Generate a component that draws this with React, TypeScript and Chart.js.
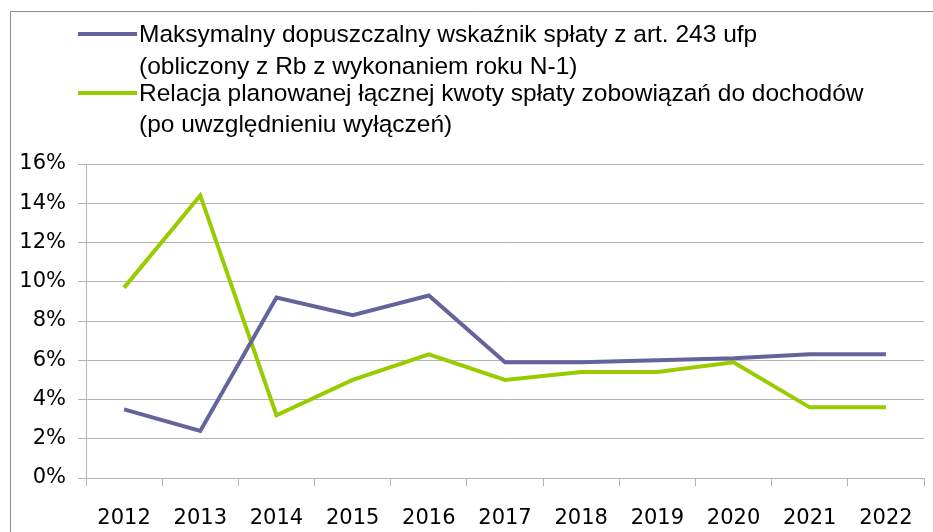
import React, { useEffect, useRef } from "react";
import { Chart, registerables } from "chart.js";

Chart.register(...registerables);

const years = ["2012", "2013", "2014", "2015", "2016", "2017", "2018", "2019", "2020", "2021", "2022"];
const maxIndicator = [3.5, 2.4, 9.2, 8.3, 9.3, 5.9, 5.9, 6.0, 6.1, 6.3, 6.3];
const plannedRatio = [9.7, 14.4, 3.2, 5.0, 6.3, 5.0, 5.4, 5.4, 5.9, 3.6, 3.6];
const legendLines1 = ["Maksymalny dopuszczalny wskaźnik spłaty z art. 243 ufp", "(obliczony z Rb z wykonaniem roku N-1)"];
const legendLines2 = ["Relacja planowanej łącznej kwoty spłaty zobowiązań do dochodów", "(po uwzględnieniu wyłączeń)"];

const BLUE = "#63649c";
const GREEN = "#99cc00";
const GRID = "#b3b3b3";
const LEGEND_FONT = "24.5px 'Liberation Sans Narrow', 'Liberation Sans', sans-serif";

const decor = {
  id: "decor",
  beforeDraw(chart: any) {
    const ctx = chart.ctx;
    ctx.save();
    ctx.fillStyle = "#ffffff";
    ctx.fillRect(0, 0, chart.width, chart.height);
    ctx.strokeStyle = "#8c8c8c";
    ctx.lineWidth = 1;
    ctx.beginPath();
    ctx.moveTo(10.5, chart.height + 5);
    ctx.lineTo(10.5, 11.5);
    ctx.lineTo(chart.width + 5, 11.5);
    ctx.stroke();
    ctx.restore();
  },
  afterDraw(chart: any) {
    const ctx = chart.ctx;
    ctx.save();
    ctx.font = LEGEND_FONT;
    ctx.fillStyle = "#000000";
    ctx.textBaseline = "middle";
    const drawEntry = (color: string, lines: string[], y1: number, y2: number) => {
      ctx.strokeStyle = color;
      ctx.lineWidth = 4;
      ctx.beginPath();
      ctx.moveTo(78, y1);
      ctx.lineTo(137, y1);
      ctx.stroke();
      ctx.fillText(lines[0], 139, y1 + 1);
      ctx.fillText(lines[1], 139, y2 + 1);
    };
    drawEntry(BLUE, legendLines1, 34, 66);
    drawEntry(GREEN, legendLines2, 93, 124);
    ctx.restore();
  },
};

export default function App() {
  const ref = useRef<HTMLCanvasElement | null>(null);
  useEffect(() => {
    if (!ref.current) return;
    const chart = new Chart(ref.current, {
      type: "line",
      data: {
        labels: years,
        datasets: [
          { label: legendLines1.join(" "), data: maxIndicator, borderColor: BLUE, backgroundColor: BLUE, borderWidth: 4, pointRadius: 0, tension: 0 },
          { label: legendLines2.join(" "), data: plannedRatio, borderColor: GREEN, backgroundColor: GREEN, borderWidth: 4, pointRadius: 0, tension: 0 },
        ],
      },
      options: {
        responsive: false,
        animation: false,
        layout: { padding: { top: 164, right: 8, left: 0, bottom: 0 } },
        plugins: { legend: { display: false }, tooltip: { enabled: false } },
        scales: {
          x: {
            offset: true,
            grid: { offset: true, drawOnChartArea: false, drawTicks: true, tickLength: 8, color: GRID },
            border: { color: GRID, width: 1 },
            ticks: { color: "#000", font: { family: "'DejaVu Sans', sans-serif", size: 21 }, padding: 20, maxRotation: 0, autoSkip: false },
            afterFit: (s: any) => { s.height = 54; },
          },
          y: {
            min: 0,
            max: 16,
            grid: { color: GRID, tickLength: 8 },
            border: { color: GRID, width: 1 },
            ticks: { stepSize: 2, color: "#000", padding: 12, font: { family: "'DejaVu Sans', sans-serif", size: 21 }, callback: (v: any) => v + "%" },
            afterFit: (s: any) => { s.width = 86; },
          },
        },
      },
      plugins: [decor],
    });
    return () => chart.destroy();
  }, []);
  return (
    <div style={{ position: "fixed", left: 0, top: 0, width: 933, height: 532 }}>
      <canvas ref={ref} width={933} height={532} style={{ width: 933, height: 532, display: "block" }} />
    </div>
  );
}
